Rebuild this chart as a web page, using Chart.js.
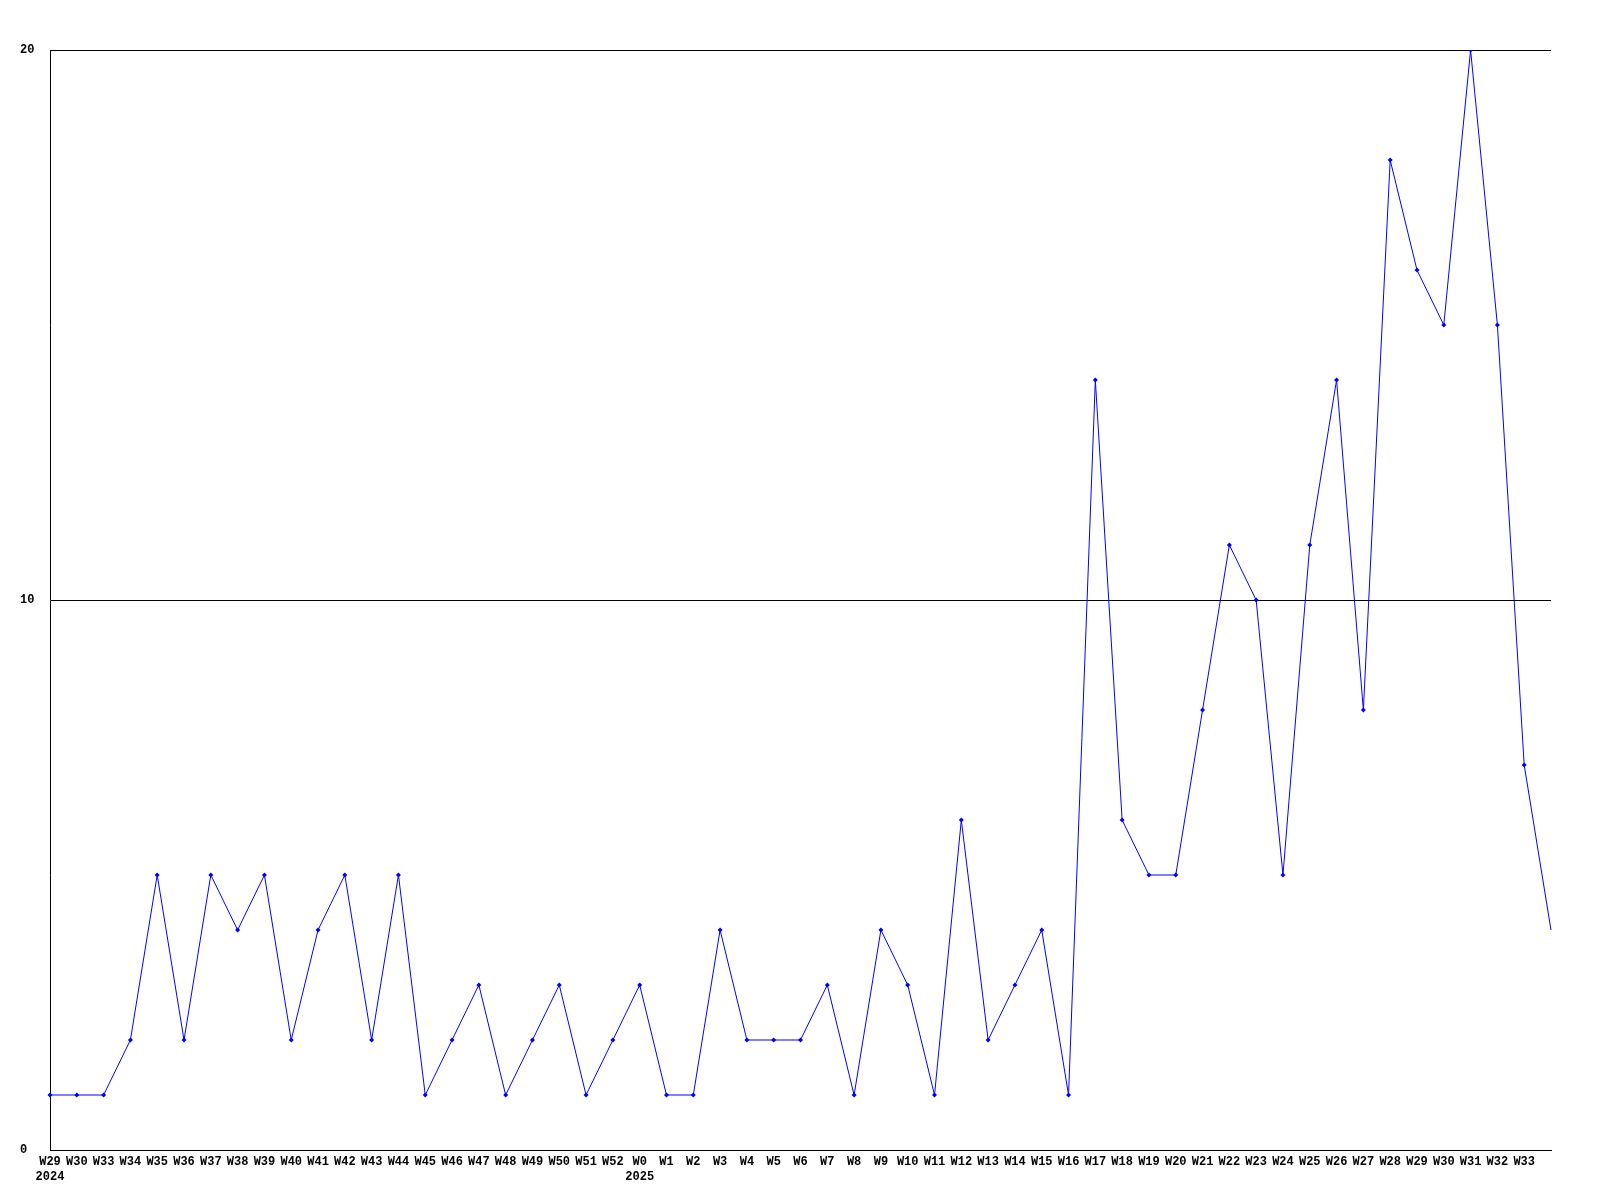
<!DOCTYPE html>
<html>
<head>
<meta charset="utf-8">
<script src="https://cdn.jsdelivr.net/npm/chart.js"></script>
<style>
  body { margin: 0; background: #fff; }
  canvas { display: block; }
</style>
</head>
<body>
<canvas id="chartWeeks" width="1600" height="1200"></canvas>
<script>
const weeks = [
  'W29', 'W30', 'W33', 'W34', 'W35', 'W36', 'W37', 'W38', 'W39', 'W40',
  'W41', 'W42', 'W43', 'W44', 'W45', 'W46', 'W47', 'W48', 'W49', 'W50',
  'W51', 'W52', 'W0', 'W1', 'W2', 'W3', 'W4', 'W5', 'W6', 'W7',
  'W8', 'W9', 'W10', 'W11', 'W12', 'W13', 'W14', 'W15', 'W16', 'W17',
  'W18', 'W19', 'W20', 'W21', 'W22', 'W23', 'W24', 'W25', 'W26', 'W27',
  'W28', 'W29', 'W30', 'W31', 'W32', 'W33', ''
];
const years = { 0: '2024', 22: '2025' };
const counts = [
  1, 1, 1, 2, 5, 2, 5, 4, 5, 2,
  4, 5, 2, 5, 1, 2, 3, 1, 2, 3,
  1, 2, 3, 1, 1, 4, 2, 2, 2, 3,
  1, 4, 3, 1, 6, 2, 3, 4, 1, 14,
  6, 5, 5, 8, 11, 10, 5, 11, 14, 8,
  18, 16, 15, 20, 15, 7, 4
];
const yTicks = [0, 10, 20];

const labels = weeks.map((w, i) => years[i] ? [w, years[i]] : w);
const tickFont = { family: 'Liberation Mono', size: 12, weight: 'bold', lineHeight: 1.2 };

new Chart(document.getElementById('chartWeeks'), {
  type: 'line',
  data: {
    labels: labels,
    datasets: [{
      data: counts,
      borderColor: '#0000ff',
      backgroundColor: '#0000ff',
      borderWidth: 1,
      pointStyle: 'rectRot',
      pointRadius: ctx => ctx.dataIndex === counts.length - 1 ? 0 : 2.5,
      pointBorderWidth: 0,
      tension: 0
    }]
  },
  options: {
    responsive: false,
    animation: false,
    layout: { padding: { left: 20, top: 50, right: 49, bottom: 0 } },
    plugins: { legend: { display: false }, tooltip: { enabled: false } },
    scales: {
      x: {
        offset: false,
        afterFit: axis => { axis.height = 50; },
        grid: { display: false, drawTicks: false },
        border: { display: true, color: '#000', width: 1 },
        ticks: {
          autoSkip: false,
          maxRotation: 0,
          minRotation: 0,
          color: '#000',
          font: tickFont,
          padding: 5
        }
      },
      y: {
        min: 0,
        max: 20,
        afterBuildTicks: axis => { axis.ticks = yTicks.map(v => ({ value: v })); },
        afterFit: axis => { axis.width = 30; },
        grid: { color: '#000', lineWidth: 1, drawTicks: false },
        border: { display: true, color: '#000', width: 1 },
        ticks: {
          color: '#000',
          font: tickFont,
          crossAlign: 'far'
        }
      }
    }
  }
});
</script>
</body>
</html>
